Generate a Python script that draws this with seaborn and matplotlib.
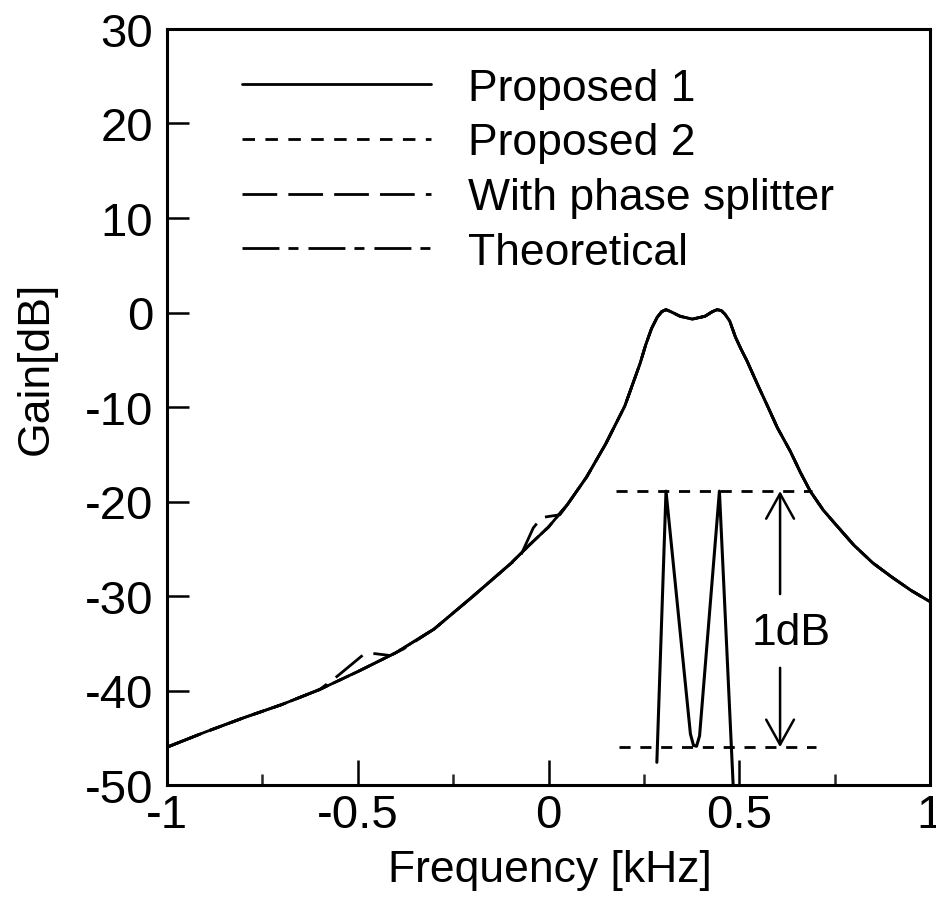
import numpy as np
import pandas as pd
import matplotlib
matplotlib.use("Agg")
import matplotlib.pyplot as plt
import seaborn as sns

# ---------------- data ----------------
series_names = ["Proposed 1", "Proposed 2", "With phase splitter", "Theoretical"]

freq_main = [-1.0, -0.9, -0.8, -0.7, -0.6, -0.5, -0.4, -0.3, -0.2, -0.1, -0.05,
             0.0, 0.05, 0.1, 0.15, 0.2, 0.24, 0.255, 0.27, 0.285, 0.297, 0.308,
             0.32, 0.345, 0.377, 0.41, 0.43, 0.442, 0.453, 0.463, 0.475, 0.49,
             0.505, 0.52, 0.55, 0.573, 0.6, 0.634, 0.66, 0.686, 0.72, 0.75, 0.8,
             0.85, 0.9, 0.95, 1.0]
gain_main = [-46.0, -44.4, -42.9, -41.5, -39.9, -38.0, -36.0, -33.5, -30.1, -26.6, -24.6,
             -22.7, -20.3, -17.4, -13.9, -9.9, -5.4, -3.4, -1.7, -0.5, 0.1, 0.3,
             0.1, -0.4, -0.7, -0.4, 0.1, 0.3, 0.2, -0.2, -0.9, -2.6,
             -3.9, -5.1, -7.8, -9.8, -12.2, -14.7, -16.9, -18.9, -20.9, -22.3, -24.6,
             -26.5, -28.0, -29.4, -30.6]

# Proposed 2 and Theoretical coincide with Proposed 1 at this scale
freq_prop2 = list(freq_main)
gain_prop2 = list(gain_main)
freq_theo = list(freq_main)
gain_theo = list(gain_main)

# With phase splitter: follows the curve, with small deviations
freq_split = [-1.0, -0.9, -0.8, -0.7, -0.6, -0.56, -0.485, -0.455, -0.415, -0.38, -0.3,
              -0.2, -0.1, -0.075, -0.04, -0.018, 0.03, 0.05, 0.1, 0.15, 0.2, 0.24,
              0.255, 0.27, 0.285, 0.297, 0.308, 0.32, 0.345, 0.377, 0.41, 0.43, 0.442,
              0.453, 0.463, 0.475, 0.49, 0.505, 0.52, 0.55, 0.573, 0.6, 0.634, 0.66,
              0.686, 0.72, 0.75, 0.8, 0.85, 0.9, 0.95, 1.0]
gain_split = [-46.0, -44.4, -42.9, -41.5, -39.9, -38.7, -36.2, -36.1, -36.3, -35.6, -33.5,
              -30.1, -26.6, -25.9, -22.8, -21.7, -21.4, -20.3, -17.4, -13.9, -9.9, -5.4,
              -3.4, -1.7, -0.5, 0.1, 0.3, 0.1, -0.4, -0.7, -0.4, 0.1, 0.3,
              0.2, -0.2, -0.9, -2.6, -3.9, -5.1, -7.8, -9.8, -12.2, -14.7, -16.9,
              -18.9, -20.9, -22.3, -24.6, -26.5, -28.0, -29.4, -30.6]

# magnified pass-band ripple (1 dB spread over the band between the dashed lines)
ripple_freq = [0.284, 0.308, 0.372, 0.38, 0.388, 0.396, 0.448, 0.484]
ripple_gain = [-47.6, -18.9, -44.6, -45.8, -45.9, -44.8, -18.9, -50.0]
ripple_top, ripple_bottom = -18.9, -46.0
ripple_label = "1dB"

x_ticks = [-1, -0.5, 0, 0.5, 1]
x_ticklabels = ["-1", "-0.5", "0", "0.5", "1"]
x_minor = [-0.75, -0.25, 0.25, 0.75]
y_ticks = [-50, -40, -30, -20, -10, 0, 10, 20, 30]
y_ticklabels = ["-50", "-40", "-30", "-20", "-10", "0", "10", "20", "30"]

# ---------------- styling ----------------
sns.set_style("ticks")
plt.rcParams["font.family"] = ["Liberation Sans", "DejaVu Sans"]
plt.rcParams["lines.scale_dashes"] = False
plt.rcParams["axes.unicode_minus"] = False
plt.rcParams["text.color"] = "black"
plt.rcParams["axes.labelcolor"] = "black"
FS = 32
TFS = 34

frames = []
for name, fx, gy in zip(series_names,
                        [freq_main, freq_prop2, freq_split, freq_theo],
                        [gain_main, gain_prop2, gain_split, gain_theo]):
    frames.append(pd.DataFrame({"Frequency": fx, "Gain": gy, "Series": name}))
df = pd.concat(frames, ignore_index=True)

fig = plt.figure(figsize=(9.36, 9.12), dpi=100)
ax = fig.add_axes([167 / 936, 1 - 786 / 912, (930 - 167) / 936, (786 - 30) / 912])

dash_map = {
    "Proposed 1": "",
    "Proposed 2": (9.0, 7.5),
    "With phase splitter": (25.0, 8.0),
    "Theoretical": (26.6, 6.5, 7.2, 7.2),
}
sns.lineplot(data=df, x="Frequency", y="Gain", hue="Series", style="Series",
             hue_order=series_names, style_order=series_names,
             palette=["black"] * 4, dashes=dash_map, linewidth=2.0,
             sort=False, estimator=None, ax=ax)

# inset ripple
sns.lineplot(x=ripple_freq, y=ripple_gain, color="black", linewidth=2.2,
             sort=False, estimator=None, ax=ax, legend=False)
ax.hlines(ripple_top, 0.178, 0.69, colors="black", linewidth=2.0,
          linestyles=(0, (8, 7)))
ax.hlines(ripple_bottom, 0.185, 0.70, colors="black", linewidth=2.0,
          linestyles=(0, (8, 7)))
arrow_x = 0.607
for tip, tail in [(ripple_top, -29.8), (ripple_bottom, -37.6)]:
    ax.annotate("", xy=(arrow_x, tip), xytext=(arrow_x, tail),
                arrowprops=dict(arrowstyle="->,head_length=0.9,head_width=0.5",
                                lw=1.8, color="black", shrinkA=0, shrinkB=0,
                                mutation_scale=20))
ax.text(0.637, -33.9, ripple_label, fontsize=FS, ha="center", va="center",
        color="black")

# legend
old = ax.get_legend()
handles = old.legend_handles
labels = [t.get_text() for t in old.get_texts()]
old.remove()
leg = ax.legend(handles, labels, loc="upper left", bbox_to_anchor=(0.098, 0.949),
                frameon=False, fontsize=FS, handlelength=4.25, handletextpad=0.85,
                labelspacing=0.31, borderpad=0, borderaxespad=0)
for h in leg.get_lines():
    h.set_linewidth(2.0)
    h.set_color("black")
for t in leg.get_texts():
    t.set_color("black")

ax.set_xlim(-1, 1)
ax.set_ylim(-50, 30)
ax.set_xticks(x_ticks)
ax.set_xticklabels(x_ticklabels)
ax.set_xticks(x_minor, minor=True)
ax.set_yticks(y_ticks)
ax.set_yticklabels(y_ticklabels)
ax.tick_params(axis="x", which="major", direction="in", length=18, width=1.8,
               pad=6, labelsize=TFS, colors="black")
ax.tick_params(axis="x", which="minor", direction="in", length=8, width=1.8)
ax.tick_params(axis="y", which="major", direction="in", length=16, width=1.8,
               pad=10, labelsize=TFS, colors="black")
for sp in ax.spines.values():
    sp.set_visible(True)
    sp.set_linewidth(2.2)
    sp.set_color("black")

ax.set_xlabel("Frequency [kHz]", fontsize=FS, color="black")
ax.set_ylabel("Gain[dB]", fontsize=FS, color="black")
ax.xaxis.set_label_coords(0.502, -0.085)
ax.yaxis.set_label_coords(-0.145, 0.553)

fig.savefig("out.png", dpi=100)
